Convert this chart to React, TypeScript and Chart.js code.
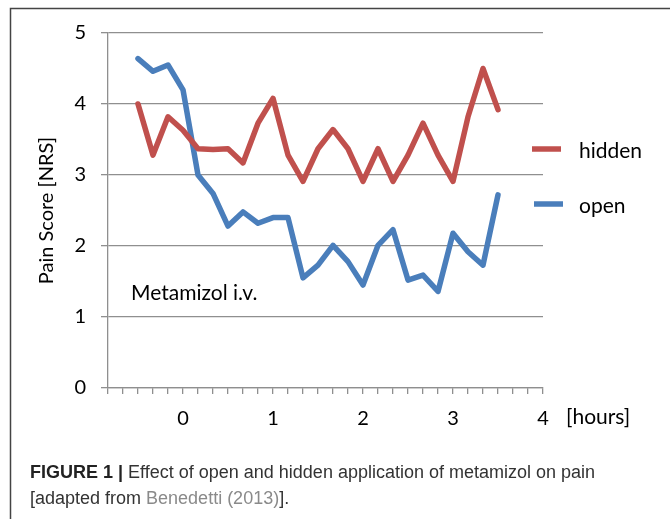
import { useEffect, useRef } from 'react';
import { Chart, registerables } from 'chart.js';

Chart.register(...registerables);

// ---- data (time in minutes relative to injection) ----
const timeMinutes = [-30, -20, -10, 0, 10, 20, 30, 40, 50, 60, 70, 80, 90, 100, 110, 120, 130, 140, 150, 160, 170, 180, 190, 200, 210];
const hiddenScores = [4.0, 3.28, 3.82, 3.63, 3.37, 3.36, 3.37, 3.17, 3.73, 4.08, 3.28, 2.91, 3.37, 3.64, 3.37, 2.91, 3.37, 2.91, 3.28, 3.73, 3.28, 2.91, 3.82, 4.5, 3.92];
const openScores = [4.64, 4.46, 4.55, 4.2, 3.0, 2.74, 2.28, 2.48, 2.32, 2.4, 2.4, 1.55, 1.73, 2.01, 1.78, 1.45, 2.01, 2.23, 1.52, 1.59, 1.36, 2.18, 1.92, 1.73, 2.72];
const seriesLabels = ['hidden', 'open'];
const seriesColors = ['#C0504D', '#4A7EBB'];
const yTickValues = [0, 1, 2, 3, 4, 5];
const xAxisUnit = '[hours]';
const yAxisTitle = 'Pain Score [NRS]';
const annotationText = 'Metamizol i.v.';
const captionBold = 'FIGURE 1 | ';
const captionLine1 = 'Effect of open and hidden application of metamizol on pain';
const captionLine2Parts = ['[adapted from ', 'Benedetti (2013)', '].'];

const CHART_FONT = 'Lato';
const CAPTION_FONT = '"Liberation Sans"';

const extrasPlugin = {
  id: 'extras',
  afterDraw(chart: any) {
    const ctx = chart.ctx as CanvasRenderingContext2D;
    const yScale = chart.scales.y;
    ctx.save();
    // figure frame
    ctx.strokeStyle = '#444';
    ctx.lineWidth = 1.5;
    ctx.beginPath();
    ctx.moveTo(10.5, 519);
    ctx.lineTo(10.5, 8.5);
    ctx.lineTo(670, 8.5);
    ctx.stroke();

    // y-axis title
    ctx.fillStyle = '#000';
    ctx.font = `20px ${CHART_FONT}`;
    ctx.save();
    ctx.translate(47, yScale.getPixelForValue(2.5));
    ctx.rotate(-Math.PI / 2);
    ctx.textAlign = 'center';
    ctx.textBaseline = 'middle';
    ctx.fillText(yAxisTitle, 0, 0);
    ctx.restore();

    ctx.font = `21px ${CHART_FONT}`;
    // x unit
    ctx.textAlign = 'left';
    ctx.textBaseline = 'middle';
    ctx.fillText(xAxisUnit, 566, 417);

    // annotation
    ctx.fillText(annotationText, 131, 293);

    // legend
    const legendY = [149, 204];
    seriesLabels.forEach((lab, i) => {
      ctx.strokeStyle = seriesColors[i];
      ctx.lineWidth = 5.5;
      ctx.lineCap = 'butt';
      ctx.beginPath();
      ctx.moveTo(532 + i * 2, legendY[i]);
      ctx.lineTo(561 + i * 2, legendY[i]);
      ctx.stroke();
      ctx.fillStyle = '#000';
      ctx.fillText(lab, 579, legendY[i] + 2);
    });

    // caption
    ctx.textBaseline = 'middle';
    ctx.font = `bold 18px ${CAPTION_FONT}`;
    ctx.fillStyle = '#222';
    let x = 30;
    ctx.fillText(captionBold, x, 473);
    x += ctx.measureText(captionBold).width;
    ctx.font = `18px ${CAPTION_FONT}`;
    ctx.fillStyle = '#333';
    ctx.fillText(captionLine1, x, 473);
    x = 30;
    const cols = ['#333', '#8a8a8a', '#333'];
    captionLine2Parts.forEach((p, i) => {
      ctx.fillStyle = cols[i];
      ctx.fillText(p, x, 499);
      x += ctx.measureText(p).width;
    });
    ctx.restore();
  },
};

export default function App() {
  const ref = useRef<HTMLCanvasElement>(null);
  useEffect(() => {
    if (!ref.current) return;
    const gridColor = '#8f8f8f';
    const chart = new Chart(ref.current, {
      type: 'line',
      data: {
        datasets: [
          {
            label: seriesLabels[0],
            data: timeMinutes.map((t, i) => ({ x: t, y: hiddenScores[i] })),
            borderColor: seriesColors[0],
            backgroundColor: seriesColors[0],
            borderWidth: 5.5,
            pointRadius: 0,
            tension: 0,
            borderJoinStyle: 'round',
            borderCapStyle: 'round',
          },
          {
            label: seriesLabels[1],
            data: timeMinutes.map((t, i) => ({ x: t, y: openScores[i] })),
            borderColor: seriesColors[1],
            backgroundColor: seriesColors[1],
            borderWidth: 5.5,
            pointRadius: 0,
            tension: 0,
            borderJoinStyle: 'round',
            borderCapStyle: 'round',
          },
        ],
      },
      options: {
        animation: false,
        responsive: false,
        devicePixelRatio: 1,
        layout: { padding: { left: 0, right: 127, top: 33, bottom: 91 } },
        plugins: { legend: { display: false }, tooltip: { enabled: false } },
        scales: {
          x: {
            type: 'linear',
            min: -50,
            max: 240,
            afterFit: (s: any) => { s.height = 40; },
            ticks: {
              stepSize: 10,
              autoSkip: false,
              maxRotation: 0,
              padding: 13,
              color: '#000',
              font: { family: CHART_FONT, size: 20 },
              callback: (v: any) => (Number(v) % 60 === 0 ? String(Number(v) / 60) : ''),
            },
            grid: { drawOnChartArea: false, drawTicks: true, tickLength: 6, color: gridColor, lineWidth: 1.3 },
            border: { display: true, color: gridColor, width: 1.3 },
          },
          y: {
            min: 0,
            max: 5,
            afterFit: (s: any) => { s.width = 108; },
            afterBuildTicks: (s: any) => { s.ticks = yTickValues.map((v) => ({ value: v })); },
            ticks: {
              stepSize: 1,
              padding: 15,
              color: '#000',
              font: { family: CHART_FONT, size: 20 },
            },
            grid: { drawTicks: true, tickLength: 7, color: gridColor, lineWidth: 1.3 },
            border: { display: true, color: gridColor, width: 1.3 },
          },
        },
      },
      plugins: [extrasPlugin],
    });
    return () => chart.destroy();
  }, []);
  return (
    <div style={{ position: 'fixed', left: 0, top: 0, width: 670, height: 519, background: '#fff' }}>
      <canvas ref={ref} width={670} height={519} style={{ display: 'block', width: 670, height: 519 }} />
    </div>
  );
}
